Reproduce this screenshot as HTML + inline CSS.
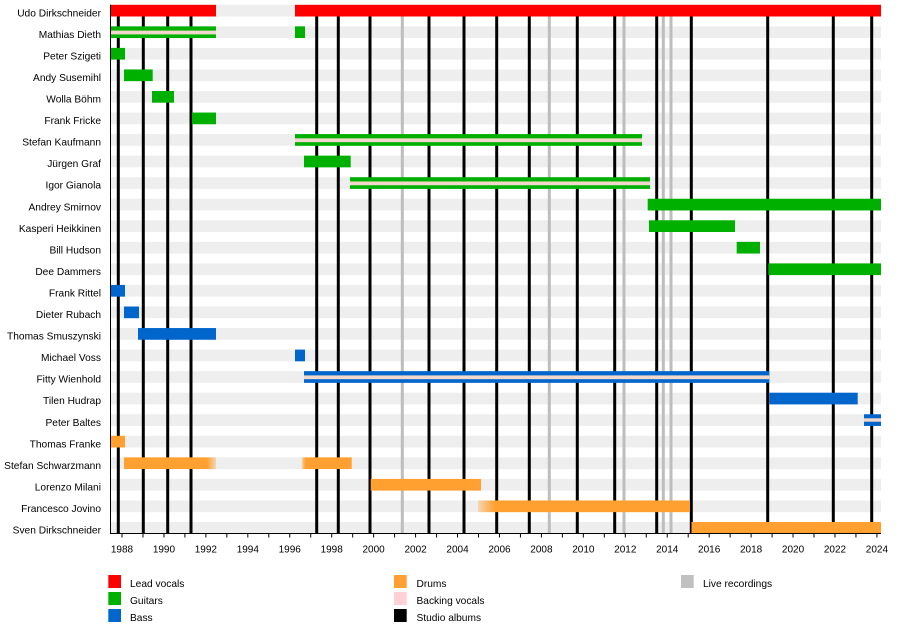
<!DOCTYPE html>
<html>
<head>
<meta charset="utf-8">
<style>
html,body{margin:0;padding:0;background:#fff;}
svg{display:block;}
text{font-family:"Liberation Sans",Arial,sans-serif;fill:#000;}
</style>
</head>
<body>
<svg width="900" height="643" viewBox="0 0 900 643" xmlns="http://www.w3.org/2000/svg">
<defs>
<linearGradient id="fadeR" x1="0" x2="1" y1="0" y2="0">
<stop offset="0" stop-color="#ffa030"/><stop offset="0.9" stop-color="#ffa030"/><stop offset="1" stop-color="#ffa030" stop-opacity="0.3"/>
</linearGradient>
<linearGradient id="fadeL" x1="0" x2="1" y1="0" y2="0">
<stop offset="0" stop-color="#ffa030" stop-opacity="0.3"/><stop offset="0.08" stop-color="#ffa030"/><stop offset="1" stop-color="#ffa030"/>
</linearGradient>
</defs>

<!-- background bars -->
<g fill="#eeeeee">
<rect x="110.7" y="4.8" width="770.3" height="11.7"/>
<rect x="110.7" y="26.35" width="770.3" height="11.7"/>
<rect x="110.7" y="47.9" width="770.3" height="11.7"/>
<rect x="110.7" y="69.45" width="770.3" height="11.7"/>
<rect x="110.7" y="91.0" width="770.3" height="11.7"/>
<rect x="110.7" y="112.55" width="770.3" height="11.7"/>
<rect x="110.7" y="134.1" width="770.3" height="11.7"/>
<rect x="110.7" y="155.65" width="770.3" height="11.7"/>
<rect x="110.7" y="177.2" width="770.3" height="11.7"/>
<rect x="110.7" y="198.75" width="770.3" height="11.7"/>
<rect x="110.7" y="220.3" width="770.3" height="11.7"/>
<rect x="110.7" y="241.85" width="770.3" height="11.7"/>
<rect x="110.7" y="263.4" width="770.3" height="11.7"/>
<rect x="110.7" y="284.95" width="770.3" height="11.7"/>
<rect x="110.7" y="306.5" width="770.3" height="11.7"/>
<rect x="110.7" y="328.05" width="770.3" height="11.7"/>
<rect x="110.7" y="349.6" width="770.3" height="11.7"/>
<rect x="110.7" y="371.15" width="770.3" height="11.7"/>
<rect x="110.7" y="392.7" width="770.3" height="11.7"/>
<rect x="110.7" y="414.25" width="770.3" height="11.7"/>
<rect x="110.7" y="435.8" width="770.3" height="11.7"/>
<rect x="110.7" y="457.35" width="770.3" height="11.7"/>
<rect x="110.7" y="478.9" width="770.3" height="11.7"/>
<rect x="110.7" y="500.45" width="770.3" height="11.7"/>
<rect x="110.7" y="522.0" width="770.3" height="11.7"/>
</g>

<!-- live recording lines -->
<g stroke="#bdbdbd" stroke-width="3">
<line x1="402.3" y1="5" x2="402.3" y2="533.5"/>
<line x1="549.3" y1="5" x2="549.3" y2="533.5"/>
<line x1="624" y1="5" x2="624" y2="533.5"/>
<line x1="663.3" y1="5" x2="663.3" y2="533.5"/>
<line x1="671" y1="5" x2="671" y2="533.5"/>
</g>

<!-- studio album lines -->
<g stroke="#000" stroke-width="3">
<line x1="118.3" y1="5" x2="118.3" y2="533.5"/>
<line x1="143.3" y1="5" x2="143.3" y2="533.5"/>
<line x1="167.7" y1="5" x2="167.7" y2="533.5"/>
<line x1="191" y1="5" x2="191" y2="533.5"/>
<line x1="316.7" y1="5" x2="316.7" y2="533.5"/>
<line x1="338.3" y1="5" x2="338.3" y2="533.5"/>
<line x1="370" y1="5" x2="370" y2="533.5"/>
<line x1="429" y1="5" x2="429" y2="533.5"/>
<line x1="464" y1="5" x2="464" y2="533.5"/>
<line x1="496.7" y1="5" x2="496.7" y2="533.5"/>
<line x1="529.3" y1="5" x2="529.3" y2="533.5"/>
<line x1="577.3" y1="5" x2="577.3" y2="533.5"/>
<line x1="614.7" y1="5" x2="614.7" y2="533.5"/>
<line x1="656.7" y1="5" x2="656.7" y2="533.5"/>
<line x1="691.3" y1="5" x2="691.3" y2="533.5"/>
<line x1="767.7" y1="5" x2="767.7" y2="533.5"/>
<line x1="833.3" y1="5" x2="833.3" y2="533.5"/>
<line x1="871.7" y1="5" x2="871.7" y2="533.5"/>
</g>

<!-- Lead vocals -->
<g fill="#ff0000">
<rect x="110.7" y="4.8" width="105.3" height="11.7"/>
<rect x="295" y="4.8" width="586" height="11.7"/>
</g>

<!-- Guitars -->
<g fill="#00b000">
<!-- Mathias striped -->
<rect x="110.7" y="26.35" width="105.3" height="11.7"/>
<rect x="295" y="26.35" width="10" height="11.7"/>
<rect x="110.7" y="47.9" width="14.3" height="11.7"/>
<rect x="124" y="69.45" width="28.7" height="11.7"/>
<rect x="152" y="91.0" width="22" height="11.7"/>
<rect x="192" y="112.55" width="24" height="11.7"/>
<rect x="295" y="134.1" width="347" height="11.7"/>
<rect x="304" y="155.65" width="46.7" height="11.7"/>
<rect x="350" y="177.2" width="300" height="11.7"/>
<rect x="647.7" y="198.75" width="233.3" height="11.7"/>
<rect x="649" y="220.3" width="86" height="11.7"/>
<rect x="736.7" y="241.85" width="23.3" height="11.7"/>
<rect x="768.3" y="263.4" width="112.7" height="11.7"/>
</g>
<!-- Bass -->
<g fill="#0066cc">
<rect x="110.7" y="284.95" width="14.3" height="11.7"/>
<rect x="124" y="306.5" width="15" height="11.7"/>
<rect x="138" y="328.05" width="78" height="11.7"/>
<rect x="295" y="349.6" width="10" height="11.7"/>
<rect x="304" y="371.15" width="465.3" height="11.7"/>
<rect x="769.3" y="392.7" width="88.4" height="11.7"/>
<rect x="864" y="414.25" width="17" height="11.7"/>
</g>
<!-- backing vocal stripes -->
<g fill="#f2d8cc">
<rect x="110.7" y="30.6" width="105.3" height="3.8"/>
<rect x="295" y="138.35" width="347" height="3.8"/>
<rect x="350" y="181.45" width="300" height="3.8"/>
<rect x="304" y="375.4" width="465.3" height="3.8"/>
<rect x="864" y="418.3" width="17" height="3.4"/>
</g>
<!-- Drums -->
<rect x="110.7" y="435.8" width="14.3" height="11.7" fill="#ffa030"/>
<rect x="124" y="457.35" width="92" height="11.7" fill="url(#fadeR)"/>
<rect x="301.7" y="457.35" width="50" height="11.7" fill="url(#fadeL)"/>
<rect x="370.7" y="478.9" width="110.3" height="11.7" fill="#ffa030"/>
<rect x="478" y="500.45" width="212" height="11.7" fill="url(#fadeL)"/>
<rect x="691.5" y="522.0" width="189.5" height="11.7" fill="#ffa030"/>

<!-- axes -->
<line x1="110.5" y1="4.8" x2="110.5" y2="534" stroke="#000" stroke-width="1"/>
<line x1="110.5" y1="533.5" x2="881" y2="533.5" stroke="#000" stroke-width="1"/>
<g stroke="#000" stroke-width="1">
<line x1="122" y1="533.5" x2="122" y2="537.5"/>
<line x1="142.97" y1="533.5" x2="142.97" y2="537.5"/>
<line x1="163.94" y1="533.5" x2="163.94" y2="537.5"/>
<line x1="184.91" y1="533.5" x2="184.91" y2="537.5"/>
<line x1="205.88" y1="533.5" x2="205.88" y2="537.5"/>
<line x1="226.85" y1="533.5" x2="226.85" y2="537.5"/>
<line x1="247.82" y1="533.5" x2="247.82" y2="537.5"/>
<line x1="268.79" y1="533.5" x2="268.79" y2="537.5"/>
<line x1="289.76" y1="533.5" x2="289.76" y2="537.5"/>
<line x1="310.73" y1="533.5" x2="310.73" y2="537.5"/>
<line x1="331.7" y1="533.5" x2="331.7" y2="537.5"/>
<line x1="352.67" y1="533.5" x2="352.67" y2="537.5"/>
<line x1="373.64" y1="533.5" x2="373.64" y2="537.5"/>
<line x1="394.61" y1="533.5" x2="394.61" y2="537.5"/>
<line x1="415.58" y1="533.5" x2="415.58" y2="537.5"/>
<line x1="436.55" y1="533.5" x2="436.55" y2="537.5"/>
<line x1="457.52" y1="533.5" x2="457.52" y2="537.5"/>
<line x1="478.49" y1="533.5" x2="478.49" y2="537.5"/>
<line x1="499.46" y1="533.5" x2="499.46" y2="537.5"/>
<line x1="520.43" y1="533.5" x2="520.43" y2="537.5"/>
<line x1="541.4" y1="533.5" x2="541.4" y2="537.5"/>
<line x1="562.37" y1="533.5" x2="562.37" y2="537.5"/>
<line x1="583.34" y1="533.5" x2="583.34" y2="537.5"/>
<line x1="604.31" y1="533.5" x2="604.31" y2="537.5"/>
<line x1="625.28" y1="533.5" x2="625.28" y2="537.5"/>
<line x1="646.25" y1="533.5" x2="646.25" y2="537.5"/>
<line x1="667.22" y1="533.5" x2="667.22" y2="537.5"/>
<line x1="688.19" y1="533.5" x2="688.19" y2="537.5"/>
<line x1="709.16" y1="533.5" x2="709.16" y2="537.5"/>
<line x1="730.13" y1="533.5" x2="730.13" y2="537.5"/>
<line x1="751.1" y1="533.5" x2="751.1" y2="537.5"/>
<line x1="772.07" y1="533.5" x2="772.07" y2="537.5"/>
<line x1="793.04" y1="533.5" x2="793.04" y2="537.5"/>
<line x1="814.01" y1="533.5" x2="814.01" y2="537.5"/>
<line x1="834.98" y1="533.5" x2="834.98" y2="537.5"/>
<line x1="855.95" y1="533.5" x2="855.95" y2="537.5"/>
<line x1="876.92" y1="533.5" x2="876.92" y2="537.5"/>
</g>
<g font-size="10" text-anchor="middle">
<text x="122" y="552.5">1988</text>
<text x="163.94" y="552.5">1990</text>
<text x="205.88" y="552.5">1992</text>
<text x="247.82" y="552.5">1994</text>
<text x="289.76" y="552.5">1996</text>
<text x="331.7" y="552.5">1998</text>
<text x="373.64" y="552.5">2000</text>
<text x="415.58" y="552.5">2002</text>
<text x="457.52" y="552.5">2004</text>
<text x="499.46" y="552.5">2006</text>
<text x="541.4" y="552.5">2008</text>
<text x="583.34" y="552.5">2010</text>
<text x="625.28" y="552.5">2012</text>
<text x="667.22" y="552.5">2014</text>
<text x="709.16" y="552.5">2016</text>
<text x="751.1" y="552.5">2018</text>
<text x="793.04" y="552.5">2020</text>
<text x="834.98" y="552.5">2022</text>
<text x="876.92" y="552.5">2024</text>
</g>

<!-- row labels -->
<g font-size="10.2" text-anchor="end">
<text x="101" y="16.3">Udo Dirkschneider</text>
<text x="101" y="37.85">Mathias Dieth</text>
<text x="101" y="59.4">Peter Szigeti</text>
<text x="101" y="80.95">Andy Susemihl</text>
<text x="101" y="102.5">Wolla Böhm</text>
<text x="101" y="124.05">Frank Fricke</text>
<text x="101" y="145.6">Stefan Kaufmann</text>
<text x="101" y="167.15">Jürgen Graf</text>
<text x="101" y="188.7">Igor Gianola</text>
<text x="101" y="210.25">Andrey Smirnov</text>
<text x="101" y="231.8">Kasperi Heikkinen</text>
<text x="101" y="253.35">Bill Hudson</text>
<text x="101" y="274.9">Dee Dammers</text>
<text x="101" y="296.45">Frank Rittel</text>
<text x="101" y="318">Dieter Rubach</text>
<text x="101" y="339.55">Thomas Smuszynski</text>
<text x="101" y="361.1">Michael Voss</text>
<text x="101" y="382.65">Fitty Wienhold</text>
<text x="101" y="404.2">Tilen Hudrap</text>
<text x="101" y="425.75">Peter Baltes</text>
<text x="101" y="447.3">Thomas Franke</text>
<text x="101" y="468.85">Stefan Schwarzmann</text>
<text x="101" y="490.4">Lorenzo Milani</text>
<text x="101" y="511.95">Francesco Jovino</text>
<text x="101" y="533.5">Sven Dirkschneider</text>
</g>

<!-- legend -->
<rect x="108.3" y="575" width="12.7" height="13" fill="#ff0000"/>
<rect x="108.3" y="592" width="12.7" height="13" fill="#00b000"/>
<rect x="108.3" y="609" width="12.7" height="13" fill="#0066cc"/>
<rect x="394" y="575" width="12.7" height="13" fill="#ffa030"/>
<rect x="394" y="592" width="12.7" height="13" fill="#ffd0d6"/>
<rect x="394" y="609" width="12.7" height="13" fill="#000"/>
<rect x="681" y="575" width="12.7" height="13" fill="#c0c0c0"/>
<g font-size="10.2">
<text x="130" y="587">Lead vocals</text>
<text x="130" y="604">Guitars</text>
<text x="130" y="621">Bass</text>
<text x="416.5" y="587">Drums</text>
<text x="416.5" y="604">Backing vocals</text>
<text x="416.5" y="621">Studio albums</text>
<text x="703" y="587">Live recordings</text>
</g>
</svg>
</body>
</html>
